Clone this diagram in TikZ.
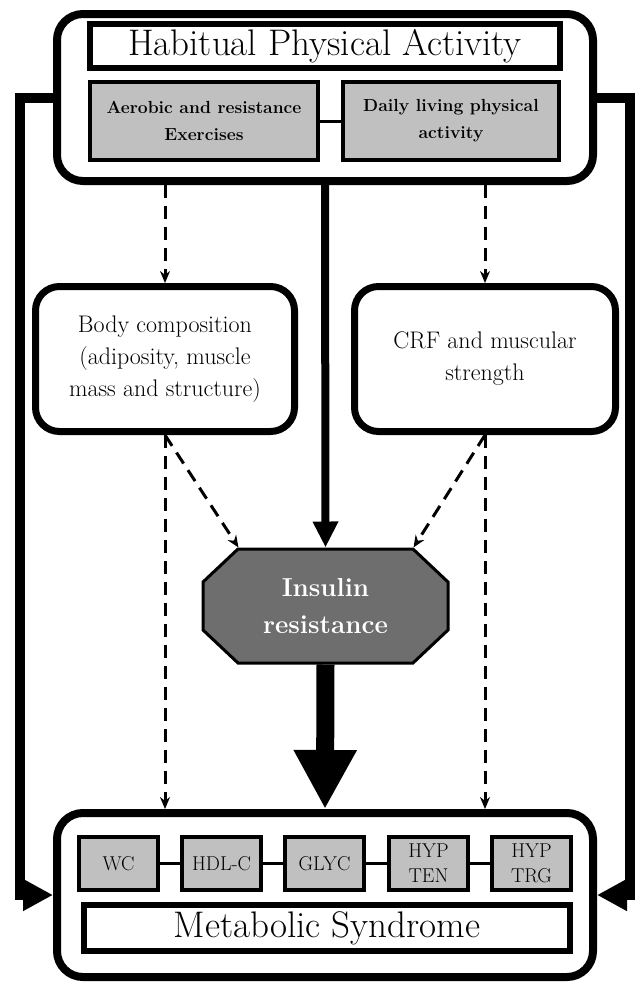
\documentclass[tikz,border=0pt]{standalone}
\usepackage{fontspec}
\usetikzlibrary{arrows.meta}

\definecolor{grisclaro}{HTML}{C0C0C0}
\definecolor{grisoscuro}{HTML}{6E6E6E}

\tikzset{
    marco/.style={draw, line width=8pt, rounded corners=26pt, fill=white, inner sep=0pt},
    titulo/.style={draw, line width=6pt, fill=white, inner sep=0pt, font=\fontsize{37}{42}\selectfont},
    caja/.style={draw, line width=4pt, fill=grisclaro, inner sep=0pt, align=center},
    cajita/.style={caja, minimum width=79pt, minimum height=53pt, font=\fontsize{20}{25}\selectfont},
    bloque/.style={draw, line width=7pt, rounded corners=24pt, fill=white, inner sep=0pt, align=center, font=\fontsize{24}{32}\selectfont},
    octogono/.style={draw, line width=3pt, fill=grisoscuro, line join=miter},
    rotulo/.style={text=white, align=center, inner sep=0pt, font=\bfseries\fontsize{26}{37}\selectfont},
    punteada/.style={line width=3pt, dash pattern=on 13pt off 8pt, -{Stealth[length=12pt,width=10pt]}},
    unir/.style={line width=3pt},
    retro/.style={line width=10pt, line join=miter, -{Triangle[length=30pt,width=30pt]}}
}

\begin{document}
\begin{tikzpicture}[x=1pt, y=-1pt]
        \useasboundingbox (0,0) rectangle (635,983);

        % Actividad fisica habitual
        \node[marco, minimum width=536pt, minimum height=167pt] (pa) at (325,97.5) {};
        \node[titulo, minimum width=470pt, minimum height=44pt] (patit) at (325,46) {Habitual Physical Activity};
        \node[caja, minimum width=228pt, minimum height=78pt, font=\bfseries\fontsize{17.5}{27}\selectfont] (aerob) at (204,121) {Aerobic and resistance\\Exercises};
        \node[caja, minimum width=216pt, minimum height=78pt, font=\bfseries\fontsize{17.5}{27}\selectfont] (diaria) at (451,121) {Daily living physical\\activity};
        \draw[unir] (aerob) -- (diaria);

        % Bloques intermedios
        \node[bloque, minimum width=259pt, minimum height=145pt] (comp) at (165,359) {Body composition\\(adiposity, muscle\\mass and structure)};
        \node[bloque, minimum width=261pt, minimum height=145pt] (crf) at (485,359) {CRF and muscular\\strength};

        % Octogono de la resistencia a la insulina
        \coordinate (irc) at (325.5,606);
        \draw[octogono] ([shift={(-87.5,-57)}]irc) -- ([shift={(87.5,-57)}]irc) -- ([shift={(122.5,-24)}]irc)
            -- ([shift={(122.5,24)}]irc) -- ([shift={(87.5,57)}]irc) -- ([shift={(-87.5,57)}]irc)
            -- ([shift={(-122.5,24)}]irc) -- ([shift={(-122.5,-24)}]irc) -- cycle;
        \node[rotulo, minimum width=245pt, minimum height=114pt, outer sep=1.5pt] (ir) at (irc) {Insulin\\resistance};

        % Sindrome metabolico
        \node[marco, minimum width=536pt, minimum height=164pt] (ms) at (325,895) {};
        \node[cajita] (wc) at (118.5,863.5) {WC};
        \node[cajita] (hdl) at (221.5,863.5) {HDL-C};
        \node[cajita] (glyc) at (324.5,863.5) {GLYC};
        \node[cajita] (hten) at (428.5,863.5) {HYP\\TEN};
        \node[cajita] (htrg) at (531.5,863.5) {HYP\\TRG};
        \foreach \a/\b in {wc/hdl, hdl/glyc, glyc/hten, hten/htrg}
            \draw[unir] (\a) -- (\b);
        \node[titulo, minimum width=486pt, minimum height=46pt] (mstit) at (327,928) {Metabolic Syndrome};

        % Flechas punteadas
        \draw[punteada] (pa.south -| comp.north) -- (comp.north);
        \draw[punteada] (pa.south -| crf.north) -- (crf.north);
        \draw[punteada] (comp.south) -- (comp.south |- ms.north);
        \draw[punteada] (crf.south) -- (crf.south |- ms.north);
        \draw[punteada] (comp.south) -- ([xshift=-87pt]ir.north);
        \draw[punteada] (crf.south) -- ([xshift=88pt]ir.north);

        % Flechas gruesas
        \draw[line width=8pt, -{Triangle[length=26pt,width=24pt]}] (pa.south) -- (ir.north);
        \draw[line width=18pt, -{Triangle[length=59pt,width=59pt]}] (ir.south) -- (ms.north);
        \draw[retro] (pa.west) -- ++(-33,0) |- (ms.west);
        \draw[retro] (pa.east) -- ++(33,0) |- (ms.east);
    \end{tikzpicture}
\end{document}
